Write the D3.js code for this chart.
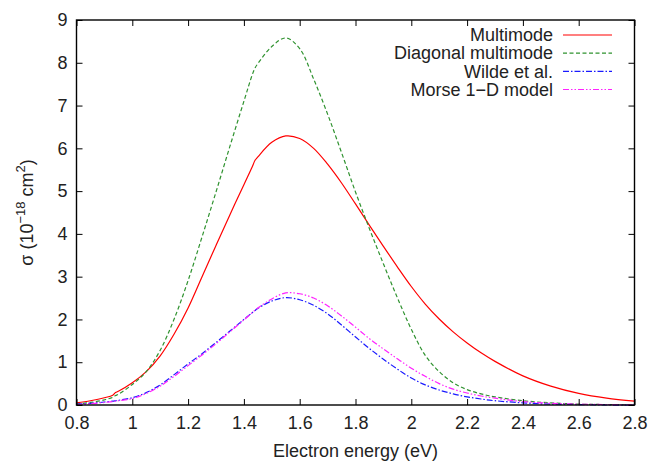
<!DOCTYPE html>
<html>
<head>
<meta charset="utf-8">
<script src="https://cdn.jsdelivr.net/npm/d3@7"></script>
<style>
  html, body { margin: 0; padding: 0; background: #fff; }
  svg { display: block; font-family: "Liberation Sans", Arial, Helvetica, sans-serif; }
</style>
</head>
<body>
<svg id="chart" width="651" height="461"></svg>
<script>
// Electron energy grid (eV)
const energy = [0.80,0.85,0.90,0.93,0.94,0.95,1.00,1.05,1.10,1.15,1.20,1.25,1.30,1.35,1.40,1.43,1.44,1.45,1.50,1.55,1.60,1.65,1.70,1.75,1.80,1.85,1.90,1.95,2.00,2.05,2.10,2.15,2.20,2.25,2.30,2.40,2.50,2.60,2.70,2.80];

// Cross sections (10^-18 cm^2)
const multimode = [0.05,0.10,0.17,0.23,0.29,0.32,0.52,0.78,1.15,1.66,2.27,3.00,3.73,4.45,5.15,5.57,5.72,5.80,6.14,6.29,6.23,6.00,5.63,5.19,4.70,4.20,3.71,3.23,2.77,2.36,2.01,1.71,1.45,1.22,1.02,0.68,0.44,0.27,0.16,0.09];
const diagonalMultimode = [0.02,0.06,0.12,0.18,0.22,0.25,0.48,0.78,1.28,2.01,2.91,3.93,4.98,6.05,7.10,7.72,7.88,7.98,8.38,8.58,8.33,7.62,6.80,5.90,4.98,4.12,3.30,2.51,1.77,1.16,0.78,0.52,0.36,0.26,0.19,0.10,0.05,0.02,0.01,0.00];
const wilde = [0.02,0.04,0.07,0.09,0.10,0.11,0.17,0.29,0.47,0.71,0.96,1.20,1.46,1.73,2.00,2.16,2.21,2.26,2.43,2.51,2.46,2.33,2.13,1.87,1.59,1.32,1.07,0.84,0.63,0.47,0.35,0.26,0.19,0.14,0.10,0.05,0.02,0.01,0.00,0.00];
const morse1D = [0.01,0.03,0.06,0.08,0.09,0.10,0.15,0.27,0.44,0.67,0.92,1.17,1.43,1.71,1.99,2.16,2.22,2.27,2.48,2.62,2.60,2.50,2.32,2.08,1.82,1.55,1.31,1.08,0.86,0.67,0.50,0.37,0.28,0.21,0.16,0.08,0.04,0.02,0.01,0.00];

const seriesNames = ["Multimode", "Diagonal multimode", "Wilde et al.", "Morse 1\u2212D model"];
const xTicks = [0.8,1.0,1.2,1.4,1.6,1.8,2.0,2.2,2.4,2.6,2.8];
const yTicks = [0,1,2,3,4,5,6,7,8,9];

const seriesStyles = [
  { values: multimode,         color: "#ff0000", dash: null },
  { values: diagonalMultimode, color: "#2f922f", dash: "4,2.5" },
  { values: wilde,             color: "#1a1aff", dash: "6,2,1.5,2" },
  { values: morse1D,           color: "#ff22ff", dash: "6,2,1.5,2,1.5,2" }
];

const svg = d3.select("#chart");
const plot = { left: 76.5, right: 634.5, top: 20, bottom: 405 };
const textColor = "#222";

const x = d3.scaleLinear().domain([0.8, 2.8]).range([plot.left, plot.right]);
const y = d3.scaleLinear().domain([0, 9]).range([plot.bottom, plot.top]);

// Curves
const line = d3.line()
  .x((d, i) => x(energy[i]))
  .y(d => y(d))
  .curve(d3.curveCatmullRom.alpha(0.5));

const curves = svg.append("g");
seriesStyles.forEach(s => {
  curves.append("path")
    .datum(s.values)
    .attr("fill", "none")
    .attr("stroke", s.color)
    .attr("stroke-width", 1.2)
    .attr("stroke-dasharray", s.dash)
    .attr("d", line);
});

// Axes: inward ticks, mirrored on the top and right edges
const fmtX = d => (d === 1 || d === 2) ? d3.format("d")(d) : d3.format(".1f")(d);
const axisBottom = d3.axisBottom(x).tickValues(xTicks).tickFormat(fmtX).tickSizeInner(-6).tickSizeOuter(0).tickPadding(11);
const axisTop = d3.axisTop(x).tickValues(xTicks).tickFormat("").tickSizeInner(-6).tickSizeOuter(0);
const axisLeft = d3.axisLeft(y).tickValues(yTicks).tickFormat(d3.format("d")).tickSizeInner(-6).tickSizeOuter(0).tickPadding(9);
const axisRight = d3.axisRight(y).tickValues(yTicks).tickFormat("").tickSizeInner(-6).tickSizeOuter(0);

function styleAxis(g) {
  g.select(".domain").remove();
  g.selectAll(".tick line").attr("stroke", "#000").attr("stroke-width", 1);
  g.selectAll(".tick text").attr("fill", textColor).attr("font-size", 18).attr("font-family", "Liberation Sans, Arial, sans-serif");
}

svg.append("g").attr("transform", `translate(0,${plot.bottom})`).call(axisBottom).call(styleAxis);
svg.append("g").attr("transform", `translate(0,${plot.top})`).call(axisTop).call(styleAxis);
svg.append("g").attr("transform", `translate(${plot.left},0)`).call(axisLeft).call(styleAxis);
svg.append("g").attr("transform", `translate(${plot.right},0)`).call(axisRight).call(styleAxis);

// Frame
svg.append("rect")
  .attr("x", plot.left).attr("y", plot.top)
  .attr("width", plot.right - plot.left).attr("height", plot.bottom - plot.top)
  .attr("fill", "none").attr("stroke", "#000").attr("stroke-width", 1.4);

// Axis titles
svg.append("text")
  .attr("x", (plot.left + plot.right) / 2).attr("y", 457)
  .attr("text-anchor", "middle").attr("font-size", 18).attr("fill", textColor)
  .text("Electron energy (eV)");

const yTitle = svg.append("text")
  .attr("transform", `translate(33,${(plot.top + plot.bottom) / 2}) rotate(-90)`)
  .attr("text-anchor", "middle").attr("font-size", 18).attr("fill", textColor);
yTitle.append("tspan").text("\u03c3 (10");
yTitle.append("tspan").attr("font-size", 13).attr("dy", -8).text("\u221218");
yTitle.append("tspan").attr("dy", 8).text(" cm");
yTitle.append("tspan").attr("font-size", 13).attr("dy", -8).text("2");
yTitle.append("tspan").attr("dy", 8).text(")");

// Legend
const legend = svg.append("g");
const legendRowY = d3.scaleLinear().domain([0, 3]).range([35, 89.5]);
seriesStyles.forEach((s, i) => {
  const ly = legendRowY(i);
  legend.append("text")
    .attr("x", 553).attr("y", ly).attr("dy", "0.35em")
    .attr("text-anchor", "end").attr("font-size", 18).attr("fill", textColor)
    .text(seriesNames[i]);
  legend.append("line")
    .attr("x1", 563).attr("x2", 612).attr("y1", ly).attr("y2", ly)
    .attr("stroke", s.color).attr("stroke-width", 1.2)
    .attr("stroke-dasharray", s.dash);
});
</script>
</body>
</html>
